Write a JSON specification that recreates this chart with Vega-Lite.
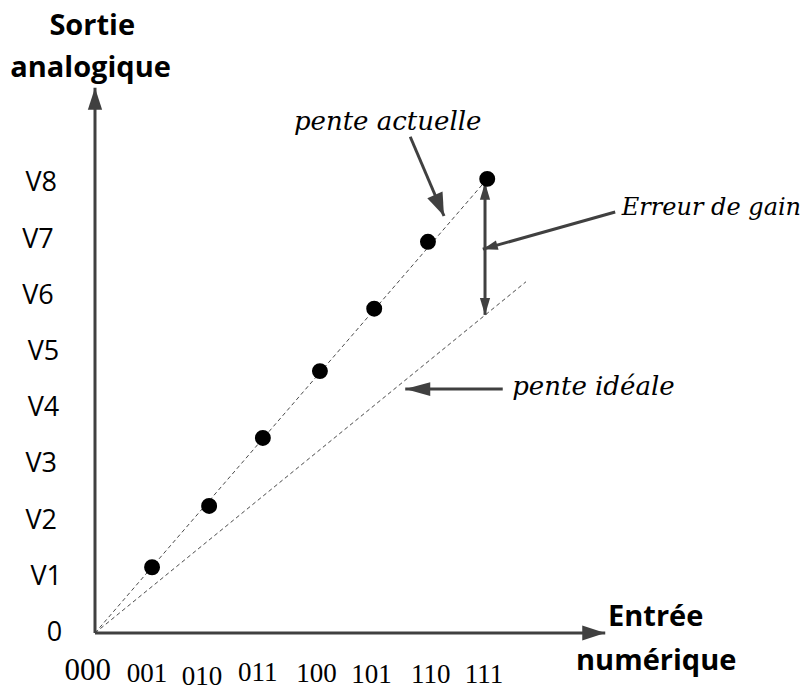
{
  "$schema": "https://vega.github.io/schema/vega-lite/v6.json",
  "width": 806,
  "height": 690,
  "autosize": {"type": "none"},
  "padding": 0,
  "background": "white",
  "config": {"view": {"stroke": null}},
  "datasets": {
    "pentes": [
      {"pente": "actuelle", "x": 0, "y": 0, "x2": 7.08, "y2": 8.08},
      {"pente": "idéale", "x": 0, "y": 0, "x2": 7.78, "y2": 6.25}
    ],
    "graduations_y": [{"y": 1}, {"y": 2}, {"y": 3}, {"y": 4}, {"y": 5}, {"y": 6}, {"y": 7}, {"y": 8}],
    "graduations_x": [{"x": 1}, {"x": 2}, {"x": 3}, {"x": 4}, {"x": 5}, {"x": 6}, {"x": 7}],
    "fleches": [
      {"fleche": "axe x", "type": "axe", "x": 0, "y": 0, "x2": 9.21, "y2": 0},
      {"fleche": "axe y", "type": "axe", "x": 0, "y": 0, "x2": 0, "y2": 9.7},
      {"fleche": "pente actuelle", "type": "repère", "x": 5.69, "y": 8.83, "x2": 6.3, "y2": 7.42},
      {"fleche": "pente idéale", "type": "repère", "x": 7.36, "y": 4.34, "x2": 5.6, "y2": 4.34},
      {"fleche": "erreur", "type": "cote", "x": 9.39, "y": 7.49, "x2": 7.0, "y2": 6.83},
      {"fleche": "gain haut", "type": "cote", "x": 7.04, "y": 6.83, "x2": 7.04, "y2": 8.01},
      {"fleche": "gain bas", "type": "cote", "x": 7.04, "y": 6.83, "x2": 7.04, "y2": 5.66}
    ],
    "points": [
      {"code": "001", "x": 1.03, "y": 1.17},
      {"code": "010", "x": 2.06, "y": 2.26},
      {"code": "011", "x": 3.03, "y": 3.47},
      {"code": "100", "x": 4.06, "y": 4.66},
      {"code": "101", "x": 5.04, "y": 5.77},
      {"code": "110", "x": 6.01, "y": 6.96},
      {"code": "111", "x": 7.08, "y": 8.08}
    ],
    "etiquettes_y": [
      {"label": "0", "x": -0.73, "y": 0},
      {"label": "V1", "x": -0.88, "y": 1},
      {"label": "V2", "x": -0.97, "y": 2},
      {"label": "V3", "x": -0.97, "y": 3},
      {"label": "V4", "x": -0.93, "y": 4},
      {"label": "V5", "x": -0.93, "y": 5},
      {"label": "V6", "x": -1.03, "y": 6},
      {"label": "V7", "x": -1.03, "y": 7},
      {"label": "V8", "x": -0.97, "y": 8}
    ],
    "etiquettes_x": [
      {"label": "000", "x": -0.13, "y": -0.68},
      {"label": "001", "x": 0.94, "y": -0.73},
      {"label": "010", "x": 1.93, "y": -0.79},
      {"label": "011", "x": 2.94, "y": -0.72},
      {"label": "100", "x": 4.0, "y": -0.73},
      {"label": "101", "x": 4.99, "y": -0.75},
      {"label": "110", "x": 6.06, "y": -0.75},
      {"label": "111", "x": 7.02, "y": -0.75}
    ],
    "titres": [
      {"texte": "Sortie", "x": -0.05, "y": 10.64},
      {"texte": "analogique", "x": -0.08, "y": 9.89},
      {"texte": "Entrée", "x": 10.12, "y": 0.125},
      {"texte": "numérique", "x": 10.13, "y": -0.66}
    ],
    "annotations": [
      {"texte": "pente actuelle", "x": 3.59, "y": 8.95},
      {"texte": "Erreur de gain", "x": 9.51, "y": 7.44},
      {"texte": "pente idéale", "x": 7.53, "y": 4.23}
    ]
  },
  "encoding": {
    "x": {"field": "x", "type": "quantitative", "scale": {"domain": [-1.7148, 12.834], "nice": false, "zero": false}, "axis": null},
    "y": {"field": "y", "type": "quantitative", "scale": {"domain": [-1.0142, 11.263], "nice": false, "zero": false}, "axis": null}
  },
  "layer": [
    {
      "data": {"name": "pentes"},
      "mark": {"type": "rule", "strokeDash": [4, 3], "strokeWidth": 1, "color": "#4a4a4a"},
      "encoding": {
        "x2": {"field": "x2"},
        "y2": {"field": "y2"}
      }
    },
    {
      "data": {"name": "graduations_y"},
      "mark": {"type": "tick", "orient": "horizontal", "size": 29, "thickness": 3, "color": "#404040", "opacity": 1},
      "encoding": {"x": {"datum": 0}}
    },
    {
      "data": {"name": "graduations_x"},
      "mark": {"type": "tick", "orient": "vertical", "size": 36, "thickness": 3, "color": "#404040", "opacity": 1},
      "encoding": {"y": {"datum": 0}}
    },
    {
      "data": {"name": "fleches"},
      "mark": {"type": "rule", "color": "#404040"},
      "encoding": {
        "x2": {"field": "x2"},
        "y2": {"field": "y2"},
        "strokeWidth": {"field": "type", "type": "nominal", "scale": {"domain": ["axe", "repère", "cote"], "range": [3, 3, 1.5]}, "legend": null}
      }
    },
    {
      "data": {"name": "fleches"},
      "transform": [{"filter": "datum.fleche === 'axe x'"}],
      "mark": {"type": "point", "shape": "M0,0L-2,-0.65L-2,0.65Z", "filled": true, "opacity": 1, "color": "#404040", "size": 529, "angle": 0},
      "encoding": {"x": {"field": "x2", "type": "quantitative"}, "y": {"field": "y2", "type": "quantitative"}}
    },
    {
      "data": {"name": "fleches"},
      "transform": [{"filter": "datum.fleche === 'axe y'"}],
      "mark": {"type": "point", "shape": "M0,0L-2,-0.65L-2,0.65Z", "filled": true, "opacity": 1, "color": "#404040", "size": 484, "angle": -90},
      "encoding": {"x": {"field": "x2", "type": "quantitative"}, "y": {"field": "y2", "type": "quantitative"}}
    },
    {
      "data": {"name": "fleches"},
      "transform": [{"filter": "datum.fleche === 'pente actuelle'"}],
      "mark": {"type": "point", "shape": "M0,0L-2,-0.72L-2,0.72Z", "filled": true, "opacity": 1, "color": "#404040", "size": 529, "angle": 66.7},
      "encoding": {"x": {"field": "x2", "type": "quantitative"}, "y": {"field": "y2", "type": "quantitative"}}
    },
    {
      "data": {"name": "fleches"},
      "transform": [{"filter": "datum.fleche === 'pente idéale'"}],
      "mark": {"type": "point", "shape": "M0,0L-2,-0.55L-2,0.55Z", "filled": true, "opacity": 1, "color": "#404040", "size": 625, "angle": 180},
      "encoding": {"x": {"field": "x2", "type": "quantitative"}, "y": {"field": "y2", "type": "quantitative"}}
    },
    {
      "data": {"name": "fleches"},
      "transform": [{"filter": "datum.fleche === 'erreur'"}],
      "mark": {"type": "point", "shape": "M0,0L-2,-0.65L-2,0.65Z", "filled": true, "opacity": 1, "color": "#404040", "size": 225, "angle": 164.5},
      "encoding": {"x": {"field": "x2", "type": "quantitative"}, "y": {"field": "y2", "type": "quantitative"}}
    },
    {
      "data": {"name": "fleches"},
      "transform": [{"filter": "datum.fleche === 'gain haut'"}],
      "mark": {"type": "point", "shape": "M0,0L-2,-0.6L-2,0.6Z", "filled": true, "opacity": 1, "color": "#404040", "size": 289, "angle": -90},
      "encoding": {"x": {"field": "x2", "type": "quantitative"}, "y": {"field": "y2", "type": "quantitative"}}
    },
    {
      "data": {"name": "fleches"},
      "transform": [{"filter": "datum.fleche === 'gain bas'"}],
      "mark": {"type": "point", "shape": "M0,0L-2,-0.6L-2,0.6Z", "filled": true, "opacity": 1, "color": "#404040", "size": 289, "angle": 90},
      "encoding": {"x": {"field": "x2", "type": "quantitative"}, "y": {"field": "y2", "type": "quantitative"}}
    },
    {
      "data": {"name": "points"},
      "mark": {"type": "circle", "size": 254, "color": "black", "opacity": 1}
    },
    {
      "data": {"name": "etiquettes_y"},
      "mark": {"type": "text", "font": "Open Sans", "fontSize": 27, "align": "center", "baseline": "middle", "color": "black"},
      "encoding": {"text": {"field": "label"}}
    },
    {
      "data": {"name": "etiquettes_x"},
      "mark": {"type": "text", "font": "Liberation Serif", "align": "center", "baseline": "middle", "color": "black"},
      "encoding": {
        "text": {"field": "label"},
        "size": {"condition": {"test": "datum.label === '000'", "value": 31}, "value": 27}
      }
    },
    {
      "data": {"name": "titres"},
      "mark": {"type": "text", "font": "Open Sans", "fontWeight": "bold", "fontSize": 29, "align": "center", "baseline": "alphabetic", "color": "black"},
      "encoding": {"text": {"field": "texte"}}
    },
    {
      "data": {"name": "annotations"},
      "mark": {"type": "text", "font": "DejaVu Serif", "fontStyle": "italic", "align": "left", "baseline": "alphabetic", "color": "black"},
      "encoding": {
        "text": {"field": "texte"},
        "size": {"condition": {"test": "datum.texte === 'Erreur de gain'", "value": 24}, "value": 26}
      }
    }
  ]
}
